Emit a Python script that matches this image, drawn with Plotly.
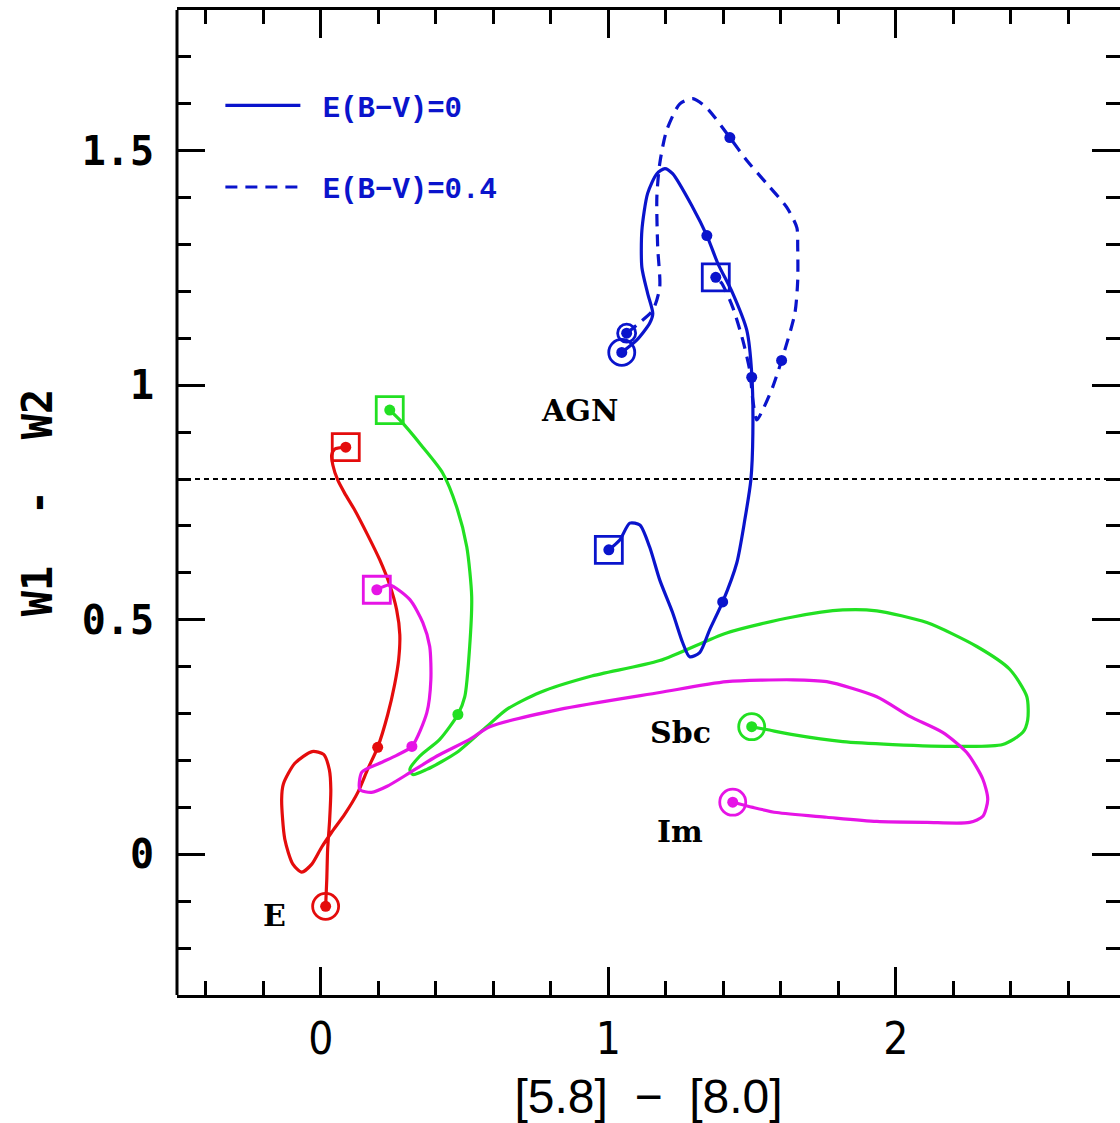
import plotly.graph_objects as go

# ---------------- data ----------------
X_RANGE = [-0.5, 2.78]
Y_RANGE = [-0.3, 1.8]
AGN_DIVIDE = 0.8

# Elliptical (E) track
E_x = [0.017, 0.021, 0.024, 0.031, 0.035, 0.030, 0.010, -0.030, -0.090, -0.130, -0.136, -0.125,
       -0.097, -0.066, -0.031, 0.003, 0.038, 0.083, 0.129, 0.163, 0.198, 0.233, 0.257, 0.271,
       0.275, 0.264, 0.240, 0.205, 0.163, 0.118, 0.083, 0.059, 0.042, 0.038, 0.049, 0.087]
E_y = [-0.111, -0.053, 0.011, 0.074, 0.138, 0.180, 0.213, 0.219, 0.194, 0.150, 0.117, 0.032,
       -0.021, -0.038, -0.021, 0.015, 0.047, 0.085, 0.132, 0.181, 0.228, 0.298, 0.362, 0.415,
       0.468, 0.521, 0.574, 0.628, 0.681, 0.734, 0.770, 0.798, 0.830, 0.851, 0.864, 0.868]
E_dot_x = [0.198]
E_dot_y = [0.228]

# Sbc track
SBC_x = [1.499, 1.551, 1.642, 1.816, 1.990, 2.223, 2.372, 2.442, 2.459, 2.456, 2.397, 2.282,
         2.108, 1.934, 1.816, 1.642, 1.412, 1.179, 0.936, 0.762, 0.647, 0.577, 0.473, 0.369,
         0.320, 0.310, 0.344, 0.414, 0.477, 0.501, 0.518, 0.525, 0.508, 0.473, 0.424, 0.355,
         0.275, 0.240]
SBC_y = [0.272, 0.266, 0.255, 0.240, 0.234, 0.230, 0.234, 0.260, 0.287, 0.336, 0.394, 0.443,
         0.494, 0.519, 0.521, 0.506, 0.472, 0.413, 0.379, 0.345, 0.309, 0.272, 0.217, 0.181,
         0.170, 0.181, 0.209, 0.245, 0.298, 0.336, 0.443, 0.549, 0.655, 0.740, 0.813, 0.868,
         0.926, 0.947]
SBC_dot_x = [0.477]
SBC_dot_y = [0.298]

# Im track
IM_x = [1.433, 1.503, 1.586, 1.760, 1.934, 2.108, 2.257, 2.303, 2.320, 2.303, 2.247, 2.163,
        2.049, 1.934, 1.760, 1.642, 1.412, 1.179, 0.831, 0.588, 0.518, 0.403, 0.310, 0.231,
        0.177, 0.136, 0.143, 0.205, 0.264, 0.317, 0.369, 0.383, 0.379, 0.355, 0.310, 0.240,
        0.195]
IM_y = [0.111, 0.100, 0.089, 0.079, 0.070, 0.068, 0.068, 0.081, 0.117, 0.160, 0.217, 0.260,
        0.294, 0.336, 0.368, 0.372, 0.368, 0.345, 0.309, 0.272, 0.245, 0.209, 0.174, 0.145,
        0.132, 0.138, 0.175, 0.194, 0.211, 0.230, 0.302, 0.372, 0.443, 0.494, 0.543, 0.574,
        0.564]
IM_dot_x = [0.317]
IM_dot_y = [0.230]

# AGN track, E(B-V)=0
AGN0_x = [1.047, 1.099, 1.144, 1.155, 1.137, 1.117, 1.117, 1.137, 1.169, 1.197, 1.224, 1.294,
          1.343, 1.381, 1.433, 1.482, 1.499, 1.503, 1.496, 1.475, 1.447, 1.398, 1.353, 1.318,
          1.283, 1.259, 1.224, 1.179, 1.144, 1.110, 1.075, 1.040, 1.002]
AGN0_y = [1.070, 1.096, 1.132, 1.153, 1.196, 1.251, 1.330, 1.409, 1.451, 1.462, 1.451, 1.379,
          1.319, 1.260, 1.196, 1.117, 1.026, 0.898, 0.798, 0.713, 0.621, 0.538, 0.479, 0.430,
          0.421, 0.451, 0.515, 0.585, 0.655, 0.702, 0.706, 0.670, 0.649]
AGN0_dot_x = [1.343, 1.499, 1.398]
AGN0_dot_y = [1.319, 1.017, 0.538]

# AGN track, E(B-V)=0.4
AGN4_x = [1.064, 1.110, 1.155, 1.179, 1.172, 1.169, 1.179, 1.203, 1.249, 1.294, 1.343, 1.423,
          1.482, 1.551, 1.621, 1.656, 1.659, 1.659, 1.649, 1.603, 1.572, 1.537, 1.517, 1.503,
          1.492, 1.468, 1.433, 1.395, 1.374]
AGN4_y = [1.111, 1.134, 1.160, 1.209, 1.294, 1.400, 1.472, 1.543, 1.600, 1.611, 1.591, 1.528,
          1.479, 1.430, 1.379, 1.336, 1.294, 1.223, 1.153, 1.053, 0.996, 0.947, 0.926, 0.968,
          1.032, 1.096, 1.166, 1.217, 1.230]
AGN4_dot_x = [1.423, 1.603]
AGN4_dot_y = [1.528, 1.053]

LABELS = ["AGN", "Sbc", "Im", "E"]
LABEL_X = [0.90, 1.25, 1.25, -0.16]
LABEL_Y = [0.947, 0.260, 0.049, -0.130]

LEGEND_NAMES = ["\u00a0E(B\u2212V)=0", "\u00a0E(B\u2212V)=0.4"]

RED = "#e40c0c"
GREEN = "#22e022"
MAGENTA = "#e614e6"
BLUE = "#0a14cc"

fig = go.Figure()


def add_track(x, y, color, dash="solid", name=None, legend=False, group=None, size_circ=26):
    fig.add_trace(go.Scatter(
        x=x, y=y, mode="lines", name=name, showlegend=legend, legendgroup=group,
        line=dict(color=color, width=3.2, dash=dash, shape="spline", smoothing=0.7),
        hoverinfo="skip"))
    # start: open circle, end: open square
    fig.add_trace(go.Scatter(
        x=[x[0]], y=[y[0]], mode="markers", showlegend=False, hoverinfo="skip",
        marker=dict(symbol="circle-open", size=size_circ, color=color, line=dict(width=2.8, color=color))))
    fig.add_trace(go.Scatter(
        x=[x[-1]], y=[y[-1]], mode="markers", showlegend=False, hoverinfo="skip",
        marker=dict(symbol="square-open", size=27, color=color, line=dict(width=2.8, color=color))))
    fig.add_trace(go.Scatter(
        x=[x[0], x[-1]], y=[y[0], y[-1]], mode="markers", showlegend=False, hoverinfo="skip",
        marker=dict(symbol="circle", size=11, color=color)))


def add_dots(x, y, color):
    fig.add_trace(go.Scatter(
        x=x, y=y, mode="markers", showlegend=False, hoverinfo="skip",
        marker=dict(symbol="circle", size=11, color=color)))


add_track(E_x, E_y, RED)
add_dots(E_dot_x, E_dot_y, RED)
add_track(SBC_x, SBC_y, GREEN)
add_dots(SBC_dot_x, SBC_dot_y, GREEN)
add_track(IM_x, IM_y, MAGENTA)
add_dots(IM_dot_x, IM_dot_y, MAGENTA)
add_track(AGN0_x, AGN0_y, BLUE, "solid", LEGEND_NAMES[0], True, "g0")
add_dots(AGN0_dot_x, AGN0_dot_y, BLUE)
add_track(AGN4_x, AGN4_y, BLUE, "12px,8px", LEGEND_NAMES[1], True, "g1", size_circ=18)
add_dots(AGN4_dot_x, AGN4_dot_y, BLUE)

for t, lx, ly in zip(LABELS, LABEL_X, LABEL_Y):
    fig.add_annotation(x=lx, y=ly, text=t, showarrow=False,
                       font=dict(family="DejaVu Serif", size=30, color="black", weight="bold"))

fig.add_hline(y=AGN_DIVIDE, line=dict(color="black", width=2, dash="5px,4px"))

# left axis line (right edge of the frame lies outside the picture)
fig.add_shape(type="line", xref="paper", yref="paper", x0=0, x1=0, y0=0, y1=1,
              line=dict(color="black", width=3))

fig.update_layout(
    width=1120, height=1123,
    margin=dict(l=177, r=0, t=10, b=128),
    paper_bgcolor="white", plot_bgcolor="white",
    legend=dict(x=0.046, y=0.929, xanchor="left", yanchor="top",
                bgcolor="rgba(0,0,0,0)", itemwidth=75, tracegroupgap=41,
                traceorder="grouped",
                font=dict(family="Liberation Mono, DejaVu Sans Mono, monospace", size=29,
                          color=BLUE, weight="bold")),
)

fig.update_xaxes(
    range=X_RANGE, showgrid=False, zeroline=False,
    showline=True, linecolor="black", linewidth=3, mirror="ticks",
    ticks="inside", ticklen=28, tickwidth=3, tickcolor="black",
    dtick=1, tick0=0, ticklabelstandoff=3,
    tickfont=dict(family="Liberation Sans Narrow, DejaVu Sans Condensed, sans-serif", size=44, color="black"),
    minor=dict(ticks="inside", dtick=0.2, tick0=0, ticklen=14, tickwidth=2.5, tickcolor="black"),
    title=dict(text="[5.8]\u00a0\u00a0\u2212\u00a0\u00a0[8.0]", standoff=18,
               font=dict(family="Liberation Sans, Arial, sans-serif", size=48, color="black")),
)
fig.update_yaxes(
    range=Y_RANGE, showgrid=False, zeroline=False,
    showline=False, mirror="ticks",
    ticks="inside", ticklen=28, tickwidth=3, tickcolor="black",
    dtick=0.5, tick0=0, ticklabelstandoff=22,
    tickfont=dict(family="DejaVu Sans Mono, monospace", size=40, color="black", weight="bold"),
    minor=dict(ticks="inside", dtick=0.1, tick0=0, ticklen=14, tickwidth=2.5, tickcolor="black"),
    title=dict(text="W1\u00a0\u00a0-\u00a0\u00a0W2", standoff=16,
               font=dict(family="DejaVu Sans Mono, monospace", size=42, color="black", weight="bold")),
)

fig.write_html("out.html")
